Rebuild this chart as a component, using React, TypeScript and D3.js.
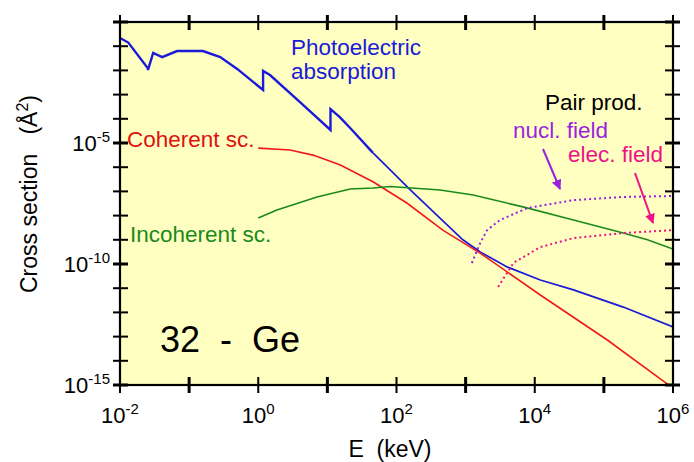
import React from 'react';
import * as d3 from 'd3';

// values, as [log10(E/keV), log10(sigma/A^2)]
const photoLogE = [-2, -1.88, -1.6, -1.595, -1.52, -1.39, -1.175, -0.8, -0.55, -0.3, 0.07, 0.07, 0.17, 0.6, 1.045, 1.045, 1.18, 1.33, 1.66, 2.2, 2.96, 3.11, 3.21, 3.6, 4.08, 4.56, 5.28, 6];
const photoLogS = [-0.66, -0.85, -1.9, -1.98, -1.28, -1.45, -1.2, -1.2, -1.45, -1.95, -2.81, -2.02, -2.19, -3.3, -4.46, -3.6, -3.93, -4.38, -5.41, -6.94, -9.0, -9.3, -9.5, -10.12, -10.66, -11.07, -11.78, -12.6];

const cohLogE = [0, 0.46, 0.79, 1.18, 1.66, 2.15, 2.67, 3.21, 4.08, 5.05, 5.92, 6];
const cohLogS = [-5.21, -5.29, -5.5, -5.9, -6.6, -7.48, -8.6, -9.55, -11.28, -13.14, -14.96, -15.1];

const incohLogE = [0, 0.27, 0.85, 1.33, 1.66, 1.91, 2.63, 3.11, 3.83, 4.56, 5.28, 5.63, 6];
const incohLogS = [-8.1, -7.77, -7.23, -6.9, -6.86, -6.8, -6.94, -7.15, -7.64, -8.18, -8.72, -9.0, -9.38];

const nuclLogE = [3.09, 3.2, 3.31, 3.5, 3.89, 4.56, 5.28, 6];
const nuclLogS = [-9.96, -9.2, -8.6, -8.18, -7.69, -7.36, -7.23, -7.19];

const elecLogE = [3.47, 3.69, 4.08, 4.56, 5.28, 6];
const elecLogS = [-10.95, -9.96, -9.3, -8.93, -8.72, -8.6];

const xTickExps = [-2, 0, 2, 4, 6];
const yTickExps = [-5, -10, -15];

const W = 694, H = 462;
const L = 120, R = 673, T = 22, B = 385;

export default function App() {
  const x = d3.scaleLog().domain([1e-2, 1e6]).range([L, R]);
  const y = d3.scaleLog().domain([1e-15, 1]).range([B, T]);

  const mk = (es: number[], ss: number[], from = 0, to = es.length) =>
    d3.line<number>()
      .x((i) => x(Math.pow(10, es[i])))
      .y((i) => y(Math.pow(10, ss[i])))(d3.range(from, to)) || '';

  const xDecades = d3.range(-2, 7);
  const yDecades = d3.range(-15, 1);
  const font = 'Liberation Sans, Arial, sans-serif';
  const pre = { whiteSpace: 'pre' as const };

  return (
    <svg width={W} height={H} style={{ position: 'absolute', left: 0, top: 0 }} fontFamily={font}>
      <defs>
        <marker id="ahP" viewBox="0 0 10 10" refX="9" refY="5" markerWidth="5" markerHeight="5" orient="auto">
          <path d="M0,0 L10,5 L0,10 z" fill="#9a1fe0" />
        </marker>
        <marker id="ahM" viewBox="0 0 10 10" refX="9" refY="5" markerWidth="5" markerHeight="5" orient="auto">
          <path d="M0,0 L10,5 L0,10 z" fill="#ee1188" />
        </marker>
        <clipPath id="plot"><rect x={L} y={T} width={R - L} height={B - T} /></clipPath>
      </defs>
      <rect x={L} y={T} width={R - L} height={B - T} fill="#ffffc2" />

      <g clipPath="url(#plot)" fill="none">
        <path d={mk(photoLogE, photoLogS, 0, 19)} stroke="#1a1ad8" strokeWidth={2.4} />
        <path d={mk(photoLogE, photoLogS, 18)} stroke="#1a1ad8" strokeWidth={1.7} />
        <path d={mk(cohLogE, cohLogS)} stroke="#f01a1a" strokeWidth={1.6} />
        <path d={mk(incohLogE, incohLogS)} stroke="#1a8a1a" strokeWidth={1.6} />
        <path d={mk(nuclLogE, nuclLogS)} stroke="#9a1fe0" strokeWidth={2} strokeDasharray="2,3" />
        <path d={mk(elecLogE, elecLogS)} stroke="#ee1188" strokeWidth={2} strokeDasharray="2,3" />
      </g>

      {/* frame */}
      <rect x={L} y={T} width={R - L} height={B - T} fill="none" stroke="#000" strokeWidth={2.2} />
      {xDecades.map((d) => {
        const px = x(Math.pow(10, d));
        const sw = d % 2 !== 0 ? 3 : 2;
        return (
          <g key={'xt' + d} stroke="#000" strokeWidth={sw}>
            <line x1={px} x2={px} y1={B - 8} y2={B + 8} />
            <line x1={px} x2={px} y1={T - 7} y2={T + 8} />
          </g>
        );
      })}
      {yDecades.map((d) => {
        const py = y(Math.pow(10, d));
        const sw = d % 5 === 0 ? 3 : 2;
        return (
          <g key={'yt' + d} stroke="#000" strokeWidth={sw}>
            <line x1={L - 7} x2={L + 8} y1={py} y2={py} />
            <line x1={R - 8} x2={R + 7} y1={py} y2={py} />
          </g>
        );
      })}

      {xTickExps.map((d) => (
        <text key={'xl' + d} x={x(Math.pow(10, d))} y={423} textAnchor="middle" fontSize={22} fill="#000">
          10<tspan dy={-9} fontSize={15}>{d}</tspan>
        </text>
      ))}
      {yTickExps.map((d) => (
        <text key={'yl' + d} x={110} y={y(Math.pow(10, d)) + 8} textAnchor="end" fontSize={22} fill="#000">
          10<tspan dy={-9} fontSize={15}>{d}</tspan>
        </text>
      ))}

      <text x={390} y={457} textAnchor="middle" fontSize={23} style={pre}>E  (keV)</text>
      <text transform="translate(37,194) rotate(-90)" textAnchor="middle" fontSize={23} style={pre}>
        Cross section   (Å<tspan dy={-9} fontSize={16}>2</tspan><tspan dy={9}>)</tspan>
      </text>

      <text x={160} y={352} fontSize={36} style={pre}>32  -  Ge</text>

      <text x={291} y={55} fontSize={22.5} fill="#1a1ad8">Photoelectric</text>
      <text x={291} y={79} fontSize={22.5} fill="#1a1ad8">absorption</text>
      <text x={127} y={147} fontSize={22.5} fill="#e01010">Coherent sc.</text>
      <text x={130} y={242} fontSize={22.5} fill="#1a8a1a">Incoherent sc.</text>
      <text x={545} y={110} fontSize={22.5} fill="#000">Pair prod.</text>
      <text x={513} y={138} fontSize={22.5} fill="#9a1fe0">nucl. field</text>
      <text x={568} y={162} fontSize={22.5} fill="#ee1188">elec. field</text>

      <line x1={543} y1={149} x2={560} y2={189} stroke="#9a1fe0" strokeWidth={2} markerEnd="url(#ahP)" />
      <line x1={635} y1={173} x2={653} y2={223} stroke="#ee1188" strokeWidth={2} markerEnd="url(#ahM)" />
    </svg>
  );
}
